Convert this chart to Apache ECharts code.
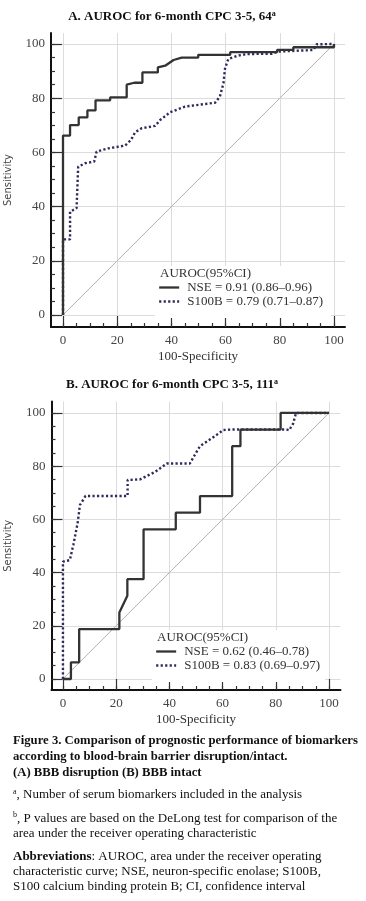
<!DOCTYPE html>
<html><head><meta charset="utf-8">
<script src="https://cdn.jsdelivr.net/npm/echarts@6/dist/echarts.min.js"></script>
<style>html,body{margin:0;padding:0;background:#fff}#c{width:366px;height:901px}</style>
</head><body><div id="c"></div>
<script>
// ---- data ----
const majorTicks = [0, 20, 40, 60, 80, 100];
const minorTicks = [0, 5, 10, 15, 20, 25, 30, 35, 40, 45, 50, 55, 60, 65, 70, 75, 80, 85, 90, 95, 100];
const diagonal = [[0, 0], [100, 100]];
// Panel A (BBB disruption): [100-specificity, sensitivity]
const nseA = [[0,0],[0,66.2],[2.6,66.2],[2.6,70.1],[5.8,70.1],[5.8,72.9],[9,72.9],[9,75.5],[12,75.5],[12,79.2],[17.4,79.2],[17.4,80.3],[23.5,80.3],[23.5,85],[26.3,85.7],[29.3,85.7],[29.3,89.5],[35,89.5],[35,91.4],[37.7,92],[40.8,94.1],[43.8,95],[49.9,95],[49.9,96],[61.7,96],[61.7,97],[79,97],[79,97.8],[85,97.8],[85,98.8],[100,98.8],[100,100]];
const s100bA = [[0,0],[0,27.9],[2.6,27.9],[2.6,38.1],[5,39.4],[5.6,54.7],[8.1,56],[11.5,56.6],[12.4,60.3],[16.7,61.5],[22.9,62.5],[25.1,64.6],[26.6,67.4],[29,68.9],[34,69.8],[35.8,71.9],[39.5,74.8],[45,76.9],[51.8,77.8],[56.1,78.3],[57.9,80.6],[59.2,85.5],[59.8,91],[61,94.5],[64.1,95.6],[67.8,96.3],[77,96.4],[79.5,97.2],[92.4,97.8],[93.6,99.9],[100,100]];
// Panel B (BBB intact)
const nseB = [[0,0],[3,0],[3,6.25],[6.1,6.25],[6.1,18.75],[21.2,18.75],[21.2,25],[24.2,31.25],[24.2,37.5],[30.3,37.5],[30.3,56.25],[42.4,56.25],[42.4,62.5],[51.5,62.5],[51.5,68.75],[63.6,68.75],[63.6,87.5],[66.7,87.5],[66.7,93.75],[81.8,93.75],[81.8,100],[100,100]];
const s100bB = [[0,0],[0,44.1],[2.6,44.7],[3.9,50.4],[5.5,58.5],[6.4,65.4],[8.5,68.8],[24.3,68.8],[24.3,74.8],[28.9,75],[34.6,77.8],[39,81],[47.7,81],[50,85],[51.5,87.5],[56,90.5],[60.3,93.6],[64.7,93.8],[84,93.8],[85,93.5],[86.5,96],[87.6,100],[100,100]];
const legendA = ['NSE = 0.91 (0.86\u20130.96)', 'S100B = 0.79 (0.71\u20130.87)'];
const legendB = ['NSE = 0.62 (0.46\u20130.78)', 'S100B = 0.83 (0.69\u20130.97)'];
const titleA = 'A. AUROC for 6-month CPC 3-5, 64{sup|a}';
const titleB = 'B. AUROC for 6-month CPC 3-5, 111{sup|a}';
const captionLines = [
  ['Figure 3. Comparison of prognostic performance of biomarkers', 740.7, true],
  ['according to blood-brain barrier disruption/intact.', 756.7, true],
  ['(A) BBB disruption (B) BBB intact', 772.7, true],
  ['{sup|a}, Number of serum biomarkers included in the analysis', 795, false],
  ['{sup|b}, P values are based on the DeLong test for comparison of the', 818.3, false],
  ['area under the receiver operating characteristic', 833.3, false],
  ['{b|Abbreviations}: AUROC, area under the receiver operating', 856.7, false],
  ['characteristic curve; NSE, neuron-specific enolase; S100B,', 871.7, false],
  ['S100 calcium binding protein B; CI, confidence interval', 886.7, false]
];

// ---- styling ----
const SERIF = '"Liberation Serif","Times New Roman",serif';
const SANS = '"DejaVu Sans",sans-serif';
const NSE_COLOR = '#333333';
const S100_COLOR = '#2c2c5c';
const DIAG_COLOR = '#bcb2b2';

const panels = [
  {grid:{left:51, top:33, width:294, height:294}, xr:[-4.43,104.06], yr:[-4.43,104.06]},
  {grid:{left:51.5, top:401.5, width:289, height:288.5}, xr:[-4.3,104.3], yr:[-4.14,104.3]}
];

function mainAxis(isX, gi, r) {
  return {
    type:'value', gridIndex:gi, min:r[0], max:r[1],
    position: isX ? 'bottom' : 'left',
    name: isX ? '100-Specificity' : 'Sensitivity',
    nameLocation:'middle', nameGap: isX ? 23.5 : 38,
    nameTextStyle: isX ? {fontFamily:SERIF, fontSize:13, color:'#333'} : {fontFamily:SANS, fontSize:10, color:'#444'},
    axisLine:{show:true, onZero:false, lineStyle:{color:'#111', width:2}},
    axisTick:{show:true, inside:true, length:11, customValues:majorTicks, lineStyle:{color:'#333', width:1.2}},
    axisLabel:{show:true, customValues:majorTicks, margin: isX ? 7 : 6, fontFamily:SERIF, fontSize:13, color:'#444'},
    splitLine:{show:true, lineStyle:{color:'#dcdcdc', width:1}},
    minorTick:{show:false}
  };
}
function minorAxis(isX, gi, r) {
  return {
    type:'value', gridIndex:gi, min:r[0], max:r[1],
    position: isX ? 'bottom' : 'left',
    axisLine:{show:false, onZero:false},
    axisTick:{show:true, inside:true, length:4, customValues:minorTicks, lineStyle:{color:'#333', width:1.2}},
    axisLabel:{show:false},
    splitLine:{show:false}
  };
}

const xAxes = [], yAxes = [];
panels.forEach((p, i) => {
  xAxes.push(mainAxis(true, i, p.xr), minorAxis(true, i, p.xr));
  yAxes.push(mainAxis(false, i, p.yr), minorAxis(false, i, p.yr));
});

function lineSeries(name, data, axisIdx, color, type, width, z) {
  return {
    type:'line', name:name, data:data, xAxisIndex:axisIdx, yAxisIndex:axisIdx,
    symbol:'none', showSymbol:false, animation:false, z:z,
    lineStyle:{color:color, width:width, type:type},
    itemStyle:{color:color}
  };
}

const series = [
  lineSeries('diagA', diagonal, 0, DIAG_COLOR, 'solid', 1, 2),
  lineSeries(legendA[1], s100bA, 0, S100_COLOR, [2.2,2.3], 2.4, 3),
  lineSeries(legendA[0], nseA, 0, NSE_COLOR, 'solid', 2.3, 4),
  lineSeries('diagB', diagonal, 2, DIAG_COLOR, 'solid', 1, 2),
  lineSeries(legendB[1], s100bB, 2, S100_COLOR, [2.2,2.3], 2.4, 3),
  lineSeries(legendB[0], nseB, 2, NSE_COLOR, 'solid', 2.3, 4)
];
series[0].silent = true; series[3].silent = true;

function legend(data, left, top) {
  return {
    data:data, left:left, top:top, orient:'vertical', padding:0, z:6,
    itemWidth:20, itemHeight:14, itemGap:1,
    itemStyle:{opacity:0},
    lineStyle:{width:2.3},
    textStyle:{fontFamily:SERIF, fontSize:13, color:'#333', padding:[0,0,0,3]}
  };
}

const richSup = {
  sup:{fontSize:8, fontFamily:SERIF, fontWeight:'bold', verticalAlign:'top', padding:[0,0,6,0]},
  b:{fontSize:13, fontFamily:SERIF, fontWeight:'bold', fill:'#111'}
};

const graphic = [
  {type:'rect', z:1, silent:true, shape:{x:155, y:266, width:176, height:52}, style:{fill:'#fff'}},
  {type:'rect', z:1, silent:true, shape:{x:152, y:630, width:173, height:52}, style:{fill:'#fff'}},
  {type:'text', z:6, style:{text:titleA, x:172, y:17, align:'center', verticalAlign:'middle', font:'bold 13px ' + SERIF, fill:'#111', rich:richSup}},
  {type:'text', z:6, style:{text:titleB, x:172, y:385, align:'center', verticalAlign:'middle', font:'bold 13px ' + SERIF, fill:'#111', rich:richSup}},
  {type:'text', z:6, style:{text:'AUROC(95%CI)', x:160, y:274, align:'left', verticalAlign:'middle', font:'13px ' + SERIF, fill:'#333'}},
  {type:'text', z:6, style:{text:'AUROC(95%CI)', x:157, y:637.7, align:'left', verticalAlign:'middle', font:'13px ' + SERIF, fill:'#333'}}
];
captionLines.forEach(l => {
  graphic.push({type:'text', z:6, style:{text:l[0], x:13, y:l[1], align:'left', verticalAlign:'middle',
    font:(l[2] ? 'bold 12.7px ' : '13px ') + SERIF, fill:'#111',
    rich:{sup:{fontSize:8, fontFamily:SERIF, verticalAlign:'top', padding:[0,0,6,0]}, b:{fontSize:13, fontFamily:SERIF, fontWeight:'bold', fill:'#111'}}}});
});

const chart = echarts.init(document.getElementById('c'), null, {renderer:'canvas'});
chart.setOption({
  animation:false,
  backgroundColor:'#fff',
  grid:panels.map(p => Object.assign({containLabel:false, outerBoundsMode:'none'}, p.grid)),
  xAxis:xAxes, yAxis:yAxes,
  legend:[legend(legendA, 158, 281), legend(legendB, 155, 645)],
  series:series,
  graphic:graphic
});
</script></body></html>
